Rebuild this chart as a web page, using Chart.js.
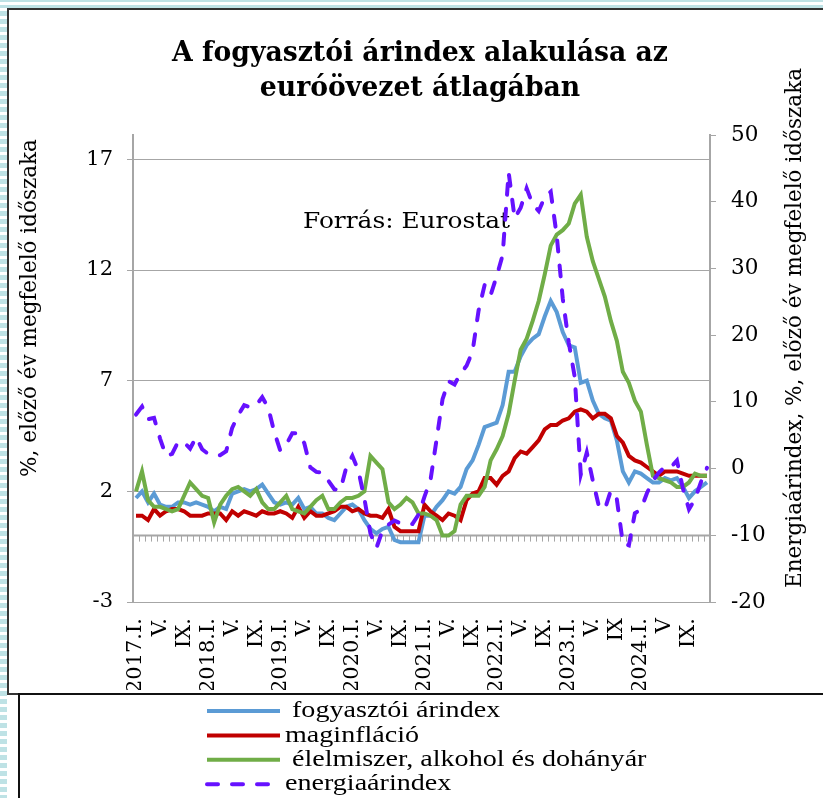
<!DOCTYPE html>
<html>
<head>
<meta charset="utf-8">
<script src="https://cdn.jsdelivr.net/npm/chart.js@4.4.1/dist/chart.umd.min.js"></script>
<style>
  html, body { margin: 0; padding: 0; background: #fff; }
  body { width: 823px; height: 798px; overflow: hidden; position: relative; }
  #stripeL { position: absolute; left: 0; top: 0; width: 7px; height: 798px;
    background: repeating-linear-gradient(to bottom, #fff 0, #fff 3px, #bee2e5 3px, #bee2e5 8px); }
  #stripeT { position: absolute; left: 0; top: 0; width: 823px; height: 8px;
    background: linear-gradient(to bottom, #bee2e5 0, #bee2e5 2px, #fff 2px, #fff 5px, #bee2e5 5px, #bee2e5 8px); }
  #frame { position: absolute; left: 7px; top: 8px; width: 840px; height: 683px; border: 2px solid #333; }
  #legendBox { position: absolute; left: 18px; top: 693px; width: 840px; height: 200px; border: 2px solid #111; }
  canvas { position: absolute; left: 0; top: 0; }
</style>
</head>
<body>
<div id="stripeL"></div>
<div id="stripeT"></div>
<div id="frame"></div>
<div id="legendBox"></div>
<canvas id="inflChart" width="823" height="798"></canvas>
<script>
// monthly data, 2017.I - 2024.XII
const tickLabels = ["2017.I.", "V.", "IX.", "2018.I.", "V.", "IX.", "2019.I.", "V.", "IX.",
  "2020.I.", "V.", "IX.", "2021.I.", "V.", "IX.", "2022.I.", "V.", "IX.",
  "2023.I.", "V.", "IX", "2024.I.", "V", "IX."];

const months = [];
for (let y = 2017; y <= 2024; y++) {
  for (let m = 1; m <= 12; m++) months.push(y + "-" + m);
}

const cpi = [
  1.7, 2.0, 1.5, 1.9, 1.4, 1.3, 1.3, 1.5, 1.5, 1.4, 1.5, 1.4,
  1.3, 1.1, 1.3, 1.2, 1.9, 2.0, 2.1, 2.0, 2.1, 2.3, 1.9, 1.5,
  1.4, 1.5, 1.4, 1.7, 1.2, 1.3, 1.0, 1.0, 0.8, 0.7, 1.0, 1.3,
  1.4, 1.2, 0.7, 0.3, 0.1, 0.3, 0.4, -0.2, -0.3, -0.3, -0.3, -0.3,
  0.9, 0.9, 1.3, 1.6, 2.0, 1.9, 2.2, 3.0, 3.4, 4.1, 4.9, 5.0,
  5.1, 5.9, 7.4, 7.4, 8.1, 8.6, 8.9, 9.1, 9.9, 10.6, 10.1, 9.2,
  8.6, 8.5, 6.9, 7.0, 6.1, 5.5, 5.3, 5.2, 4.3, 2.9, 2.4, 2.9,
  2.8, 2.6, 2.4, 2.4, 2.6, 2.5, 2.6, 2.2, 1.7, 2.0, 2.2, 2.4
];

const core = [
  0.9, 0.9, 0.7, 1.2, 0.9, 1.1, 1.2, 1.2, 1.1, 0.9, 0.9, 0.9,
  1.0, 1.0, 1.0, 0.7, 1.1, 0.9, 1.1, 1.0, 0.9, 1.1, 1.0, 1.0,
  1.1, 1.0, 0.8, 1.3, 0.8, 1.1, 0.9, 0.9, 1.0, 1.1, 1.3, 1.3,
  1.1, 1.2, 1.0, 0.9, 0.9, 0.8, 1.2, 0.4, 0.2, 0.2, 0.2, 0.2,
  1.4, 1.1, 0.9, 0.7, 1.0, 0.9, 0.7, 1.6, 1.9, 2.0, 2.6, 2.6,
  2.3, 2.7, 2.9, 3.5, 3.8, 3.7, 4.0, 4.3, 4.8, 5.0, 5.0, 5.2,
  5.3, 5.6, 5.7, 5.6, 5.3, 5.5, 5.5, 5.3, 4.5, 4.2, 3.6, 3.4,
  3.3, 3.1, 2.9, 2.7, 2.9, 2.9, 2.9, 2.8, 2.7, 2.7, 2.7, 2.7
];

const food = [
  2.0, 2.9, 1.6, 1.3, 1.3, 1.2, 1.1, 1.2, 1.8, 2.4, 2.1, 1.8,
  1.7, 0.6, 1.4, 1.8, 2.1, 2.2, 2.0, 1.8, 2.1, 1.5, 1.2, 1.2,
  1.5, 1.8, 1.2, 1.1, 1.0, 1.3, 1.6, 1.8, 1.2, 1.2, 1.5, 1.7,
  1.7, 1.8, 2.0, 3.6, 3.3, 3.0, 1.5, 1.2, 1.4, 1.7, 1.5, 1.0,
  1.0, 0.9, 0.7, 0.0, 0.0, 0.2, 1.4, 1.8, 1.8, 1.8, 2.2, 3.4,
  3.9, 4.5, 5.5, 7.0, 8.4, 8.9, 9.7, 10.6, 11.8, 13.1, 13.6, 13.8,
  14.1, 15.0, 15.4, 13.5, 12.4, 11.6, 10.8, 9.7, 8.8, 7.4, 6.9, 6.1,
  5.6, 4.1, 2.7, 2.6, 2.5, 2.4, 2.2, 2.2, 2.4, 2.8, 2.7, 2.7
];

const energy = [
  8.1, 9.3, 7.4, 7.6, 4.5, 1.9, 2.2, 4.0, 3.9, 3.0, 4.7, 2.9,
  2.2, 2.1, 2.0, 2.6, 6.1, 8.0, 9.5, 9.2, 9.5, 10.7, 9.1, 5.5,
  2.7, 3.6, 5.3, 5.3, 3.8, 0.2, -0.5, -0.6, -1.8, -3.1, -3.2, 0.2,
  1.9, -0.3, -4.5, -9.7, -11.9, -9.3, -8.4, -7.8, -8.2, -8.2, -8.3, -6.9,
  -4.2, -1.7, 4.3, 10.4, 13.1, 12.6, 14.3, 15.4, 17.6, 23.7, 27.5, 26.0,
  28.8, 32.0, 44.4, 37.5, 39.1, 42.0, 39.6, 38.6, 40.7, 41.5, 34.9, 25.5,
  18.9, 13.7, -0.9, 2.4, -1.8, -5.6, -6.1, -3.3, -4.6, -11.2, -11.5, -6.7,
  -6.1, -3.7, -1.8, -0.6, 0.3, 0.2, 1.2, -3.0, -6.1, -4.6, -2.0, 0.1
];

const leftTicks = [-3, 2, 7, 12, 17];

const serif = '"DejaVu Serif", serif';
const axisGray = "#a6a6a6";

// text squeezed/stretched horizontally to the width it has in the original
function fitText(ctx, text, x, y, width, align) {
  const w = ctx.measureText(text).width;
  const k = width / w;
  ctx.save();
  ctx.translate(x, y);
  ctx.scale(k, 1);
  ctx.textAlign = align;
  ctx.fillText(text, 0, 0);
  ctx.restore();
  return k;
}

// horizontal category axis crossing at 0 on the left scale
const zeroAxis = {
  id: "zeroAxis",
  beforeDatasetsDraw(chart) {
    const { ctx, chartArea, scales } = chart;
    const y0 = scales.y.getPixelForValue(0);
    const step = scales.x.getPixelForValue(1) - scales.x.getPixelForValue(0);
    ctx.save();
    ctx.strokeStyle = axisGray;
    ctx.lineWidth = 2;
    ctx.beginPath();
    ctx.moveTo(chartArea.left, y0);
    ctx.lineTo(chartArea.right, y0);
    ctx.stroke();
    ctx.lineWidth = 1;
    ctx.beginPath();
    for (let i = 0; i <= months.length; i++) {
      const x = Math.round(scales.x.getPixelForValue(i) - step / 2) + 0.5;
      ctx.moveTo(x, y0);
      ctx.lineTo(x, y0 + 6);
    }
    ctx.stroke();
    // source note
    ctx.fillStyle = "#000";
    ctx.font = "23px " + serif;
    ctx.textBaseline = "alphabetic";
    fitText(ctx, "Forrás: Eurostat", 303, 228, 207, "left");
    ctx.restore();
  }
};

const texts = {
  id: "texts",
  afterDraw(chart) {
    const ctx = chart.ctx;
    ctx.save();
    ctx.fillStyle = "#000";
    ctx.textBaseline = "alphabetic";
    ctx.font = "bold 27px " + serif;
    const k = fitText(ctx, "A fogyasztói árindex alakulása az", 420, 61, 496, "center");
    const w2 = ctx.measureText("euróövezet átlagában").width * k;
    fitText(ctx, "euróövezet átlagában", 420, 96, w2, "center");

    ctx.font = "21.5px " + serif;
    ctx.textAlign = "center";
    ctx.textBaseline = "middle";
    ctx.save();
    ctx.translate(30, 308);
    ctx.rotate(-Math.PI / 2);
    ctx.fillText("%, előző év megfelelő időszaka", 0, 0);
    ctx.restore();
    ctx.save();
    ctx.translate(795, 328);
    ctx.rotate(-Math.PI / 2);
    ctx.fillText("Energiaárindex, %, előző év megfelelő időszaka", 0, 0);
    ctx.restore();
    ctx.restore();

    // legend, one entry per row
    chart.data.datasets.forEach((ds, k) => {
      const y = 711 + k * 24.4;
      ctx.save();
      ctx.strokeStyle = ds.borderColor;
      ctx.lineWidth = 4;
      ctx.lineCap = ds.borderCapStyle || "butt";
      ctx.setLineDash(ds.borderDash || []);
      ctx.beginPath();
      ctx.moveTo(207, y);
      ctx.lineTo(280, y);
      ctx.stroke();
      ctx.restore();
      ctx.save();
      ctx.fillStyle = "#000";
      ctx.font = '24px "Liberation Serif", serif';
      ctx.textBaseline = "middle";
      ctx.translate(285, y);
      ctx.scale(1.17, 1);
      ctx.fillText(ds.label, 0, 0);
      ctx.restore();
    });
  }
};

new Chart(document.getElementById("inflChart").getContext("2d"), {
  type: "line",
  data: {
    labels: months,
    datasets: [
      { label: " fogyasztói árindex", data: cpi, yAxisID: "y", borderColor: "#5b9bd5", borderWidth: 4, order: 4 },
      { label: "maginfláció", data: core, yAxisID: "y", borderColor: "#c00000", borderWidth: 4, order: 3 },
      { label: " élelmiszer, alkohol és dohányár", data: food, yAxisID: "y", borderColor: "#70ad47", borderWidth: 4, order: 2 },
      { label: "energiaárindex", data: energy, yAxisID: "y2", borderColor: "#6611ff", borderWidth: 4,
        borderDash: [11, 14], borderCapStyle: "round", order: 1 }
    ]
  },
  options: {
    responsive: false,
    animation: false,
    events: [],
    elements: { point: { radius: 0 }, line: { tension: 0 } },
    layout: { padding: { left: 0, right: 0, top: 135, bottom: 108 } },
    plugins: { legend: { display: false }, title: { display: false }, tooltip: { enabled: false } },
    scales: {
      x: {
        offset: true,
        grid: { display: false },
        border: { display: false },
        ticks: {
          autoSkip: false,
          minRotation: 90,
          maxRotation: 90,
          padding: 8,
          color: "#000",
          font: { family: serif, size: 21 },
          callback: (v, i) => (i % 4 === 0 ? tickLabels[i / 4] : "")
        },
        afterFit: s => { s.height = 88; }
      },
      y: {
        position: "left",
        min: -3,
        max: 18.1,
        afterBuildTicks: s => { s.ticks = leftTicks.map(v => ({ value: v })); },
        grid: { color: axisGray, lineWidth: 1, borderDash: [3, 2], tickLength: 6, tickColor: axisGray, tickBorderDash: [] },
        border: { display: true, color: axisGray, width: 2 },
        ticks: { color: "#000", padding: 14, font: { family: serif, size: 21 } },
        afterFit: s => { s.width = 133; }
      },
      y2: {
        position: "right",
        min: -20,
        max: 50,
        ticks: { stepSize: 10, color: "#000", padding: 15, font: { family: serif, size: 21.5 } },
        grid: { drawOnChartArea: false, tickLength: 6, color: axisGray },
        border: { display: true, color: axisGray, width: 2 },
        afterFit: s => { s.width = 113; }
      }
    }
  },
  plugins: [zeroAxis, texts]
});
</script>
</body>
</html>
